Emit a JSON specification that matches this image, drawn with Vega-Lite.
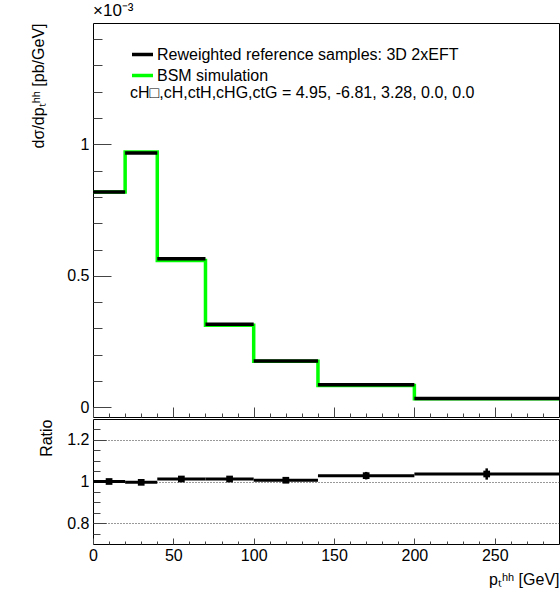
{
  "$schema": "https://vega.github.io/schema/vega-lite/v6.json",
  "background": "white",
  "padding": {"left": 30, "top": 1, "right": 2, "bottom": 2},
  "spacing": 0,
  "config": {
    "font": "Liberation Sans",
    "view": {"stroke": "#000", "strokeWidth": 1},
    "axis": {
      "domain": false,
      "grid": false,
      "labelFont": "Liberation Sans",
      "labelFontSize": 16,
      "labelColor": "#000",
      "titleFont": "Liberation Sans",
      "titleFontSize": 16,
      "titleFontWeight": "normal",
      "titleColor": "#000",
      "tickColor": "#444",
      "labelFlush": false,
      "labelOverlap": false,
      "labelBound": false,
      "tickCount": 200
    }
  },
  "datasets": {
    "bsm": [
      {"x": 0, "val": 0.819, "series": "BSM simulation"},
      {"x": 20, "val": 0.971, "series": "BSM simulation"},
      {"x": 40, "val": 0.558, "series": "BSM simulation"},
      {"x": 70, "val": 0.312, "series": "BSM simulation"},
      {"x": 100, "val": 0.175, "series": "BSM simulation"},
      {"x": 140, "val": 0.0837, "series": "BSM simulation"},
      {"x": 200, "val": 0.0328, "series": "BSM simulation"},
      {"x": 290, "val": 0.0328, "series": "BSM simulation"}
    ],
    "ref": [
      {"lo": 0, "hi": 20, "val": 0.819, "series": "Reweighted reference samples: 3D 2xEFT"},
      {"lo": 20, "hi": 40, "val": 0.967, "series": "Reweighted reference samples: 3D 2xEFT"},
      {"lo": 40, "hi": 70, "val": 0.565, "series": "Reweighted reference samples: 3D 2xEFT"},
      {"lo": 70, "hi": 100, "val": 0.316, "series": "Reweighted reference samples: 3D 2xEFT"},
      {"lo": 100, "hi": 140, "val": 0.176, "series": "Reweighted reference samples: 3D 2xEFT"},
      {"lo": 140, "hi": 200, "val": 0.086, "series": "Reweighted reference samples: 3D 2xEFT"},
      {"lo": 200, "hi": 290, "val": 0.034, "series": "Reweighted reference samples: 3D 2xEFT"}
    ],
    "ratio": [
      {"lo": 0, "hi": 20, "c": 10, "r": 1.0, "elo": 0.996, "ehi": 1.004},
      {"lo": 20, "hi": 40, "c": 30, "r": 0.996, "elo": 0.992, "ehi": 1.0},
      {"lo": 40, "hi": 70, "c": 55, "r": 1.012, "elo": 1.008, "ehi": 1.016},
      {"lo": 70, "hi": 100, "c": 85, "r": 1.012, "elo": 1.007, "ehi": 1.017},
      {"lo": 100, "hi": 140, "c": 120, "r": 1.006, "elo": 1.0, "ehi": 1.012},
      {"lo": 140, "hi": 200, "c": 170, "r": 1.028, "elo": 1.01, "ehi": 1.046},
      {"lo": 200, "hi": 290, "c": 245, "r": 1.036, "elo": 1.009, "ehi": 1.063}
    ]
  },
  "vconcat": [
    {
      "width": 466,
      "height": 394,
      "title": {"text": "×10⁻³", "anchor": "start", "frame": "group", "fontSize": 17, "fontWeight": "normal", "font": "Liberation Sans", "offset": 3, "color": "#000"},
      "resolve": {"axis": {"x": "independent", "y": "independent"}},
      "layer": [
        {
          "data": {"name": "bsm"},
          "mark": {"type": "line", "interpolate": "step-after", "strokeWidth": 3.5},
          "encoding": {
            "x": {
              "field": "x", "type": "quantitative",
              "scale": {"domain": [0, 290], "nice": false, "zero": false},
              "axis": {
                "orient": "bottom",
                "title": null,
                "values": [0, 50, 100, 150, 200, 250],
                "labels": false,
                "tickSize": -10
              }
            },
            "y": {
              "field": "val", "type": "quantitative",
              "scale": {"domain": [-0.0365, 1.461], "nice": false, "zero": false},
              "axis": {
                "orient": "left",
                "title": "dσ/dpₜʰʰ  [pb/GeV]",
                "titleAnchor": "end",
                "titlePadding": 20,
                "values": [0, 0.5, 1],
                "labelExpr": "format(datum.value, '~g')",
                "tickSize": -18,
                "labelPadding": 22
              }
            },
            "color": {
              "field": "series", "type": "nominal",
              "scale": {"domain": ["Reweighted reference samples: 3D 2xEFT", "BSM simulation"], "range": ["#000000", "#00ff00"]},
              "legend": {
                "orient": "none",
                "legendX": 37,
                "legendY": 19,
                "symbolType": "stroke",
                "symbolSize": 441,
                "symbolStrokeWidth": 3.5,
                "labelFontSize": 16,
                "labelFont": "Liberation Sans",
                "labelColor": "#000",
                "labelOffset": 2,
                "labelLimit": 400,
                "rowPadding": -4,
                "title": "cH□,cH,ctH,cHG,ctG = 4.95, -6.81, 3.28, 0.0, 0.0",
                "titleOrient": "bottom",
                "titleFontSize": 16,
                "titleFontWeight": "normal",
                "titleFont": "Liberation Sans",
                "titleColor": "#000",
                "titleLimit": 500,
                "titlePadding": 1
              }
            }
          }
        },
        {
          "data": {"name": "ref"},
          "mark": {"type": "rule", "strokeWidth": 3.5},
          "encoding": {
            "x": {
              "field": "lo", "type": "quantitative",
              "axis": {
                "orient": "bottom",
                "title": null,
                "values": [10,20,30,40,60,70,80,90,110,120,130,140,160,170,180,190,210,220,230,240,260,270,280],
                "labels": false,
                "tickSize": -4
              }
            },
            "x2": {"field": "hi"},
            "y": {
              "field": "val", "type": "quantitative",
              "axis": {
                "orient": "left",
                "title": null,
                "values": [0.1,0.2,0.3,0.4,0.6,0.7,0.8,0.9,1.1,1.2,1.3,1.4],
                "labels": false,
                "tickSize": -9
              }
            },
            "color": {"field": "series", "type": "nominal"}
          }
        }
      ]
    },
    {
      "width": 466,
      "height": 125,
      "data": {"name": "ratio"},
      "resolve": {"axis": {"x": "independent", "y": "independent"}},
      "layer": [
        {
          "mark": {"type": "rule", "strokeWidth": 3, "color": "#000"},
          "encoding": {
            "x": {
              "field": "lo", "type": "quantitative",
              "scale": {"domain": [0, 290], "nice": false, "zero": false},
              "axis": {
                "orient": "bottom",
                "title": "pₜʰʰ [GeV]",
                "titleAnchor": "end",
                "titlePadding": 8,
                "values": [0, 50, 100, 150, 200, 250],
                "labelExpr": "format(datum.value, '~g')",
                "tickSize": -6,
                "labelPadding": 9
              }
            },
            "x2": {"field": "hi"},
            "y": {
              "field": "r", "type": "quantitative",
              "scale": {"domain": [0.7, 1.3], "nice": false, "zero": false},
              "axis": {
                "orient": "left",
                "title": "Ratio",
                "titleAnchor": "end",
                "titlePadding": 12,
                "values": [0.8, 1, 1.2],
                "labelExpr": "format(datum.value, '~g')",
                "tickSize": -13,
                "labelPadding": 17,
                "grid": true,
                "gridColor": "#333",
                "gridDash": [1, 2],
                "gridWidth": 1
              }
            }
          }
        },
        {
          "mark": {"type": "rule", "strokeWidth": 2.5, "color": "#000"},
          "encoding": {
            "x": {
              "field": "c", "type": "quantitative",
              "axis": {
                "orient": "bottom",
                "title": null,
                "values": [10,20,30,40,60,70,80,90,110,120,130,140,160,170,180,190,210,220,230,240,260,270,280],
                "labels": false,
                "tickSize": -3
              }
            },
            "y": {
              "field": "elo", "type": "quantitative",
              "axis": {
                "orient": "left",
                "title": null,
                "values": [0.75,0.85,0.9,0.95,1.05,1.1,1.15,1.25],
                "labels": false,
                "tickSize": -7
              }
            },
            "y2": {"field": "ehi"}
          }
        },
        {
          "mark": {"type": "square", "size": 45, "filled": true, "color": "#000", "opacity": 1},
          "encoding": {
            "x": {"field": "c", "type": "quantitative", "axis": null},
            "y": {"field": "r", "type": "quantitative", "axis": null}
          }
        }
      ]
    }
  ]
}
